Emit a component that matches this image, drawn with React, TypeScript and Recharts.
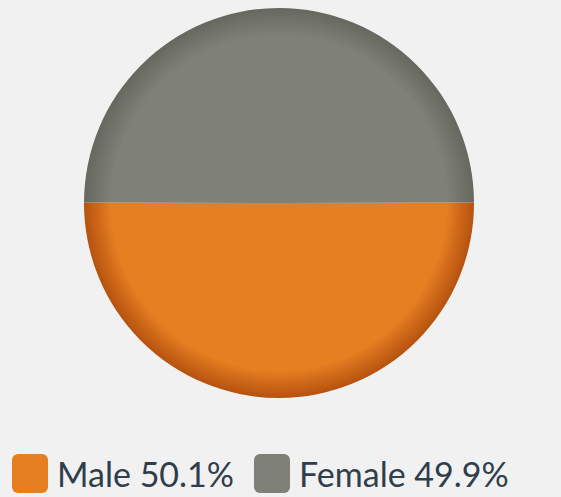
import React from 'react';
import { PieChart, Pie, Cell, Legend } from 'recharts';

const labels = ['Male', 'Female'];
const shares = [50.1, 49.9];
const colors = ['#E67E22', '#7F8078'];
const rimColors = ['#B5520F', '#66675F'];

const data = labels.map((name, i) => ({ name, value: shares[i] }));

const W = 561;
const H = 497;
const CX = 279;
const CY = 203;
const R = 195;

const LegendContent = () => (
  <div style={{ display: 'flex', alignItems: 'center', fontFamily: 'Lato, sans-serif', fontSize: 34, color: '#2F3D4C' }}>
    {data.map((d, i) => (
      <div key={d.name} style={{ display: 'flex', alignItems: 'center', marginRight: 20 }}>
        <div
          style={{
            width: 36,
            height: 39,
            borderRadius: 6,
            background: colors[i],
            marginRight: 9,
          }}
        />
        <span style={{ lineHeight: '39px' }}>{`${d.name} ${d.value.toFixed(1)}%`}</span>
      </div>
    ))}
  </div>
);

export default function App() {
  return (
    <div style={{ position: 'absolute', left: 0, top: 0, width: W, height: H, background: '#F1F1F1' }}>
      <PieChart width={W} height={H} margin={{ top: 0, right: 0, bottom: 0, left: 0 }}>
        <defs>
          {colors.map((c, i) => (
            <radialGradient key={c} id={`slice-grad-${i}`} gradientUnits="userSpaceOnUse" cx={CX} cy={CY} r={R}>
              <stop offset="0%" stopColor={c} />
              <stop offset="86%" stopColor={c} />
              <stop offset="100%" stopColor={rimColors[i]} />
            </radialGradient>
          ))}
        </defs>
        <Pie
          data={data}
          dataKey="value"
          nameKey="name"
          cx={CX}
          cy={CY}
          outerRadius={R}
          startAngle={179.82}
          endAngle={539.82}
          stroke="none"
          isAnimationActive={false}
        >
          {data.map((d, i) => (
            <Cell key={d.name} fill={`url(#slice-grad-${i})`} />
          ))}
        </Pie>
        <Legend
          content={<LegendContent />}
          wrapperStyle={{ position: 'absolute', left: 12, top: 454, width: 'auto' }}
        />
      </PieChart>
    </div>
  );
}
